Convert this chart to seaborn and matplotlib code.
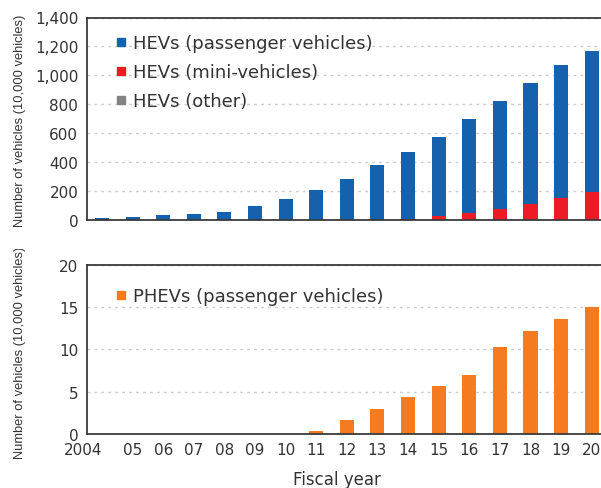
import numpy as np
import pandas as pd
import matplotlib
matplotlib.use("Agg")
import matplotlib.pyplot as plt
import matplotlib.transforms as mtransforms
from matplotlib.ticker import FuncFormatter, FixedLocator
from matplotlib.lines import Line2D
import seaborn as sns

# ---- data (10,000 vehicles) ----
years = ["2004", "05", "06", "07", "08", "09", "10", "11", "12", "13",
         "14", "15", "16", "17", "18", "19", "20"]
hev_total = [15, 22, 31, 39, 50, 94, 141, 204, 282, 380,
             470, 576, 697, 819, 946, 1069, 1169]
hev_mini = [0, 0, 0, 0, 0, 0, 0, 0, 0, 1,
            5, 23, 44, 76, 111, 148, 192]
hev_other = [0, 0, 0, 0, 0, 0, 0, 0, 0, 0,
             0, 0, 0, 0, 0, 0, 0]
phev = [0, 0, 0, 0, 0, 0, 0, 0.35, 1.65, 2.91,
        4.33, 5.67, 6.97, 10.24, 12.13, 13.55, 15.04]

hev_labels = ["HEVs (passenger vehicles)", "HEVs (mini-vehicles)", "HEVs (other)"]
phev_label = "PHEVs (passenger vehicles)"

c_blue = "#1561AE"
c_red = "#ED1C24"
c_grey = "#848484"
c_orange = "#F47B20"
txt = "#333333"

sns.set_theme(style="white")
plt.rcParams["font.family"] = ["DejaVu Sans"]
plt.rcParams["text.color"] = txt
plt.rcParams["axes.labelcolor"] = txt
plt.rcParams["xtick.color"] = txt
plt.rcParams["ytick.color"] = txt

W, H = 601, 489
fig = plt.figure(figsize=(W / 100, H / 100), dpi=100)

def ax_rect(l, t, r, b):
    return [l / W, 1 - b / H, (r - l) / W, (b - t) / H]

ax1 = fig.add_axes(ax_rect(86.7, 18.5, 607, 220.7))
ax2 = fig.add_axes(ax_rect(86.7, 265.7, 607, 435))

df = pd.DataFrame({"year": years,
                   "mini": hev_mini,
                   "pass": np.array(hev_total) - np.array(hev_mini) - np.array(hev_other),
                   "other": hev_other,
                   "phev": phev})
df["lvl_blue"] = df["mini"] + df["pass"]
df["lvl_grey"] = df["lvl_blue"] + df["other"]

bw = 0.46
sns.barplot(data=df, x="year", y="lvl_grey", color=c_grey, width=bw, ax=ax1,
            saturation=1, errorbar=None, linewidth=0)
sns.barplot(data=df, x="year", y="lvl_blue", color=c_blue, width=bw, ax=ax1,
            saturation=1, errorbar=None, linewidth=0)
sns.barplot(data=df, x="year", y="mini", color=c_red, width=bw, ax=ax1,
            saturation=1, errorbar=None, linewidth=0)
sns.barplot(data=df, x="year", y="phev", color=c_orange, width=bw, ax=ax2,
            saturation=1, errorbar=None, linewidth=0)

for ax in (ax1, ax2):
    ax.set_xlim(-0.5, 16.5)
    ax.set_xlabel("")
    ax.set_ylabel("")
    for s in ["top", "left", "bottom"]:
        ax.spines[s].set_color("#3a3a3a")
        ax.spines[s].set_linewidth(1.3)
    ax.spines["right"].set_visible(False)
    ax.yaxis.grid(True, linestyle=(0, (2, 3)), color="#cccccc", linewidth=1)
    ax.set_axisbelow(True)
    ax.tick_params(axis="y", length=0, pad=6, labelsize=11)

ax1.set_ylim(0, 1400)
ax1.set_yticks(range(0, 1401, 200))
ax1.yaxis.set_major_formatter(FuncFormatter(lambda v, p: f"{int(v):,}"))
ax1.tick_params(axis="x", length=0, labelbottom=False)

ax2.set_ylim(0, 20)
ax2.set_yticks([0, 5, 10, 15, 20])
ax2.set_xticks(range(len(years)))
ax2.set_xticklabels(years)
ax2.tick_params(axis="x", which="major", length=0, labelsize=11, pad=6)
ax2.xaxis.set_minor_locator(FixedLocator(np.arange(0.5, 16, 1.0)))
ax2.tick_params(axis="x", which="minor", direction="in", length=3.5,
                width=1.2, color="#3a3a3a")
lab0 = ax2.get_xticklabels()[0]
lab0.set_transform(lab0.get_transform() +
                   mtransforms.ScaledTranslation(-0.19, 0, fig.dpi_scale_trans))

# legends
h1 = [Line2D([], [], marker="s", linestyle="", color=c, markersize=6)
      for c in (c_blue, c_red, c_grey)]
ax1.legend(h1, hev_labels, loc="upper left", bbox_to_anchor=(0.035, 0.955),
           frameon=False, fontsize=13, handletextpad=0.15, labelspacing=0.62,
           handlelength=1.0, borderaxespad=0)
h2 = [Line2D([], [], marker="s", linestyle="", color=c_orange, markersize=6)]
ax2.legend(h2, [phev_label], loc="upper left", bbox_to_anchor=(0.035, 0.908),
           frameon=False, fontsize=13, handletextpad=0.15,
           handlelength=1.0, borderaxespad=0)

# axis titles
ylab = "Number of vehicles (10,000 vehicles)"
fam = ["Liberation Sans", "DejaVu Sans"]
fig.text(20 / W, 1 - 121 / H, ylab, rotation=90, ha="center", va="center",
         fontsize=9.3, family=fam, color=txt)
t2 = fig.text(20 / W, 1 - 353 / H, ylab, rotation=90, ha="center", va="center",
              fontsize=9.3, family=fam, color=txt)
clip = mtransforms.Bbox([[0, 0], [W, H - 250]])
t2.set_clip_box(clip)
t2.set_clip_on(True)
fig.text(337 / W, 1 - 480 / H, "Fiscal year", ha="center", va="center",
         fontsize=12, color=txt)

fig.savefig("out.png", dpi=100)
